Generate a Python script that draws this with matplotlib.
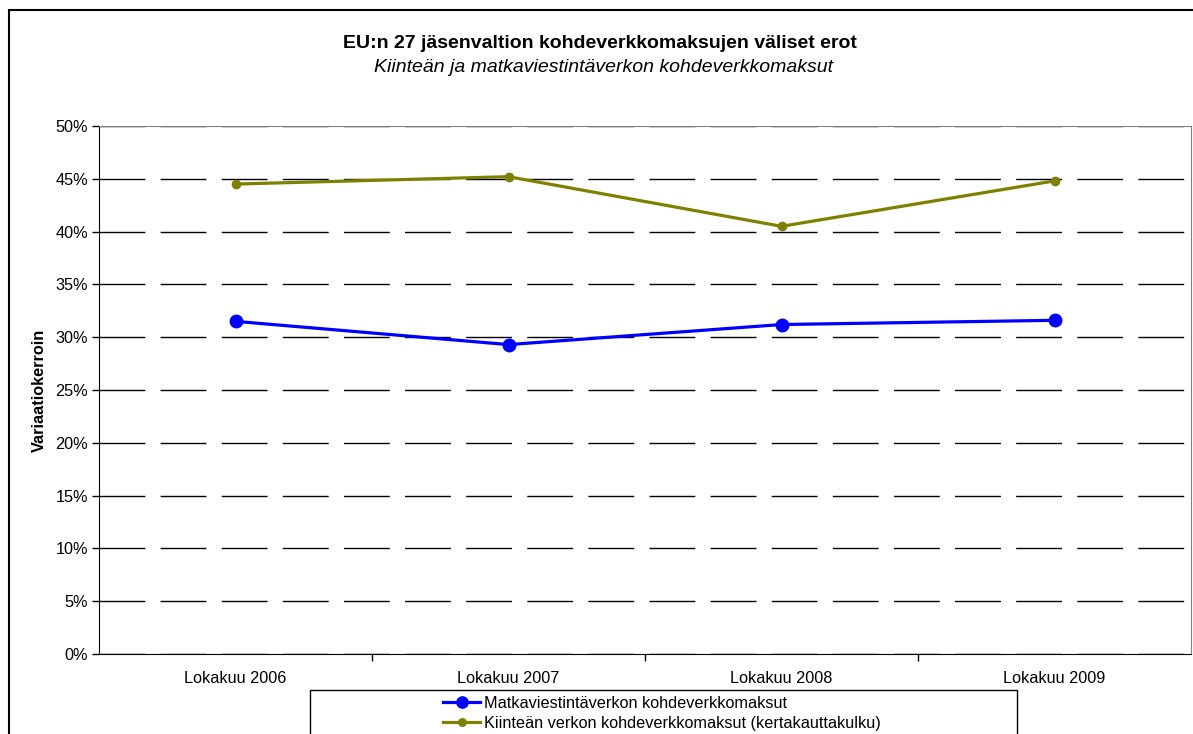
import matplotlib.pyplot as plt
from matplotlib.patches import Rectangle
from matplotlib.ticker import FuncFormatter, MultipleLocator

plt.rcParams['font.family'] = ['Liberation Sans', 'DejaVu Sans']

categories = ["Lokakuu 2006", "Lokakuu 2007", "Lokakuu 2008", "Lokakuu 2009"]
mobile = [31.5, 29.3, 31.2, 31.6]
fixed = [44.5, 45.2, 40.5, 44.8]
mobile_label = "Matkaviestintäverkon kohdeverkkomaksut"
fixed_label = "Kiinteän verkon kohdeverkkomaksut (kertakauttakulku)"

W, H = 1193, 734
fs = 11.7
fig = plt.figure(figsize=(W / 100, H / 100), dpi=100)
ax = fig.add_axes([99 / W, 1 - 654 / H, 1092 / W, 528 / H])

x = list(range(len(categories)))
ax.plot(x, mobile, color="#0000FF", lw=2.3, marker="o", ms=9, label=mobile_label, zorder=3)
ax.plot(x, fixed, color="#808000", lw=2.3, marker="o", ms=6, label=fixed_label, zorder=3)

ax.set_xlim(-0.5, len(categories) - 0.5)
ax.set_ylim(0, 50)
ax.yaxis.set_major_locator(MultipleLocator(5))
ax.yaxis.set_major_formatter(FuncFormatter(lambda v, p: "%d%%" % v))
ax.set_xticks(x)
ax.set_xticklabels(categories)
ax.set_xticks([i + 0.5 for i in x[:-1]], minor=True)
ax.tick_params(axis="x", which="major", length=0, pad=12, labelsize=fs)
ax.tick_params(axis="x", which="minor", length=5, width=1)
ax.tick_params(axis="y", length=5, width=1, labelsize=fs, pad=3)

ax.grid(axis="y", color="black", lw=1, linestyle=(0, (33, 11)))
ax.set_axisbelow(True)
for s in ["top", "right"]:
    ax.spines[s].set_color("#808080")
for s in ["left", "bottom"]:
    ax.spines[s].set_color("black")

ax.set_ylabel("Variaatiokerroin", fontsize=fs, fontweight="bold", labelpad=6)

fig.text(600 / W, 1 - 43 / H, "EU:n 27 jäsenvaltion kohdeverkkomaksujen väliset erot",
         ha="center", va="center", fontsize=14, fontweight="bold")
fig.text(604 / W, 1 - 67 / H, "Kiinteän ja matkaviestintäverkon kohdeverkkomaksut",
         ha="center", va="center", fontsize=14, style="italic")

# outer chart frame and legend frame, both run off the picture
fig.patches.append(Rectangle((9 / W, -0.1), 1.2, 1 - 10 / H + 0.1, transform=fig.transFigure,
                             fill=False, edgecolor="black", lw=1.5))
fig.patches.append(Rectangle((310 / W, -0.1), 707 / W, 1 - 690 / H + 0.1, transform=fig.transFigure,
                             fill=False, edgecolor="black", lw=1))

fig.legend(loc="upper left", bbox_to_anchor=(443 / W, 1 - 696 / H), frameon=False,
           fontsize=fs, handlelength=2.3, handletextpad=0.2, labelspacing=0.3,
           borderpad=0, borderaxespad=0, markerscale=0.9)

fig.savefig("out.png", dpi=100)
